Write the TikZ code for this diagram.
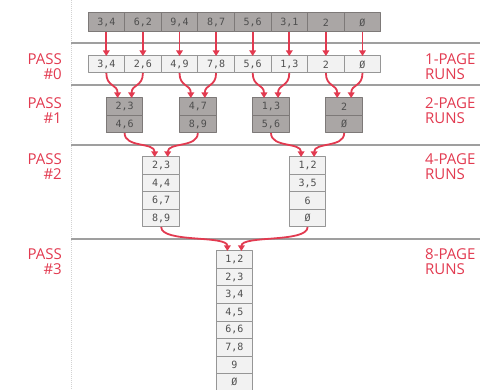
\documentclass[tikz,border=0pt]{standalone}
\usepackage{fontspec}
\setmainfont{Open Sans}
\newfontfamily\cellfont{DejaVu Sans Mono}
\usetikzlibrary{arrows.meta}
\definecolor{runred}{RGB}{226,58,80}
\definecolor{celltext}{RGB}{78,78,78}
\definecolor{darkcell}{RGB}{170,166,165}
\definecolor{darkedge}{RGB}{125,121,120}
\definecolor{lightcell}{RGB}{242,242,242}
\definecolor{lightedge}{RGB}{150,150,150}
\tikzset{
  page/.style={draw=lightedge, fill=lightcell, line width=1pt, minimum width=36.6pt,
    minimum height=17.5pt, inner sep=0pt, outer sep=0pt, text=celltext,
    font=\cellfont\fontsize{10}{10}\selectfont},
  darkpage/.style={page, draw=darkedge, fill=darkcell},
  merge/.style={runred, line width=1.8pt, -{Triangle[length=5.5pt,width=6.5pt]}},
  passlabel/.style={text=runred, font=\fontsize{15}{15}\selectfont, inner sep=0pt,
    align=right, anchor=north east},
  runlabel/.style={text=runred, font=\fontsize{15}{15}\selectfont, inner sep=0pt,
    align=left, anchor=north west},
  divider/.style={gray!75, line width=1.2pt}
}
\begin{document}
\begin{tikzpicture}[x=1pt, y=-1pt, line join=round]
          \useasboundingbox (0,0) rectangle (501,390);
          % --- grid ----------------------------------------------------
          \draw[gray!35, line width=1pt, densely dotted] (71,0) -- (71,390);
          \foreach \y in {43,85,145,239}
            \draw[divider] (71,\y) -- (480,\y);
          % --- input pages ---------------------------------------------
          \foreach \v [count=\i] in {{3,4},{6,2},{9,4},{8,7},{5,6},{3,1},2,Ø}
            \node[darkpage, minimum height=19pt] (in-\i) at ({88+36.6*(\i-0.5)},22.5) {\v};
          % --- pass 0 --------------------------------------------------
          \foreach \v [count=\i] in {{3,4},{2,6},{4,9},{7,8},{5,6},{1,3},2,Ø}
            \node[page, minimum height=17pt] (r0-\i) at ({88+36.6*(\i-0.5)},64.5) {\v};
          % --- pass 1 --------------------------------------------------
          \foreach \a/\b [count=\k] in {{2,3}/{4,6},{4,7}/{8,9},{1,3}/{5,6},2/Ø} {
            \node[darkpage] (p1-\k-1) at ({88+36.6*(2*\k-1)},106.75) {\a};
            \node[darkpage] (p1-\k-2) at ({88+36.6*(2*\k-1)},124.25) {\b};
          }
          % --- pass 2 --------------------------------------------------
          \foreach \v [count=\j] in {{2,3},{4,4},{6,7},{8,9}}
            \node[page] (p2-1-\j) at (161.2,{157+17.5*(\j-0.5)}) {\v};
          \foreach \v [count=\j] in {{1,2},{3,5},6,Ø}
            \node[page] (p2-2-\j) at (307.6,{157+17.5*(\j-0.5)}) {\v};
          % --- pass 3 --------------------------------------------------
          \foreach \v [count=\j] in {{1,2},{2,3},{3,4},{4,5},{6,6},{7,8},9,Ø}
            \node[page] (p3-\j) at (234.4,{251+17.5*(\j-0.5)}) {\v};
          % --- arrows --------------------------------------------------
          \foreach \i in {1,...,8}
            \draw[merge] (in-\i.south) -- (r0-\i.north);
          \foreach \k in {1,...,4} {
            \pgfmathtruncatemacro\lft{2*\k-1}
            \pgfmathtruncatemacro\rgt{2*\k}
            \draw[merge] (r0-\lft.south) .. controls +(0,14) and +(0,-14) .. ([xshift=-7pt]p1-\k-1.north);
            \draw[merge] (r0-\rgt.south) .. controls +(0,14) and +(0,-14) .. ([xshift=7pt]p1-\k-1.north);
          }
          \draw[merge] (p1-1-2.south) .. controls +(0,15) and +(0,-15) .. ([xshift=-6.5pt]p2-1-1.north);
          \draw[merge] (p1-2-2.south) .. controls +(0,15) and +(0,-15) .. ([xshift=6.5pt]p2-1-1.north);
          \draw[merge] (p1-3-2.south) .. controls +(0,15) and +(0,-15) .. ([xshift=-6.5pt]p2-2-1.north);
          \draw[merge] (p1-4-2.south) .. controls +(0,15) and +(0,-15) .. ([xshift=6.5pt]p2-2-1.north);
          \draw[merge] (p2-1-4.south) .. controls +(0,16) and +(0,-16) .. ([xshift=-7pt]p3-1.north);
          \draw[merge] (p2-2-4.south) .. controls +(0,16) and +(0,-16) .. ([xshift=7pt]p3-1.north);
          % --- labels --------------------------------------------------
          \node[passlabel] (pass0) at (62,53) {PASS\\\#0};
          \node[passlabel] (pass1) at (62,97) {PASS\\\#1};
          \node[passlabel] (pass2) at (62,153) {PASS\\\#2};
          \node[passlabel] (pass3) at (62,248) {PASS\\\#3};
          \node[runlabel] (runs1) at (425,53) {1-PAGE\\RUNS};
          \node[runlabel] (runs2) at (425,97) {2-PAGE\\RUNS};
          \node[runlabel] (runs4) at (425,153) {4-PAGE\\RUNS};
          \node[runlabel] (runs8) at (425,248) {8-PAGE\\RUNS};
\end{tikzpicture}
\end{document}
